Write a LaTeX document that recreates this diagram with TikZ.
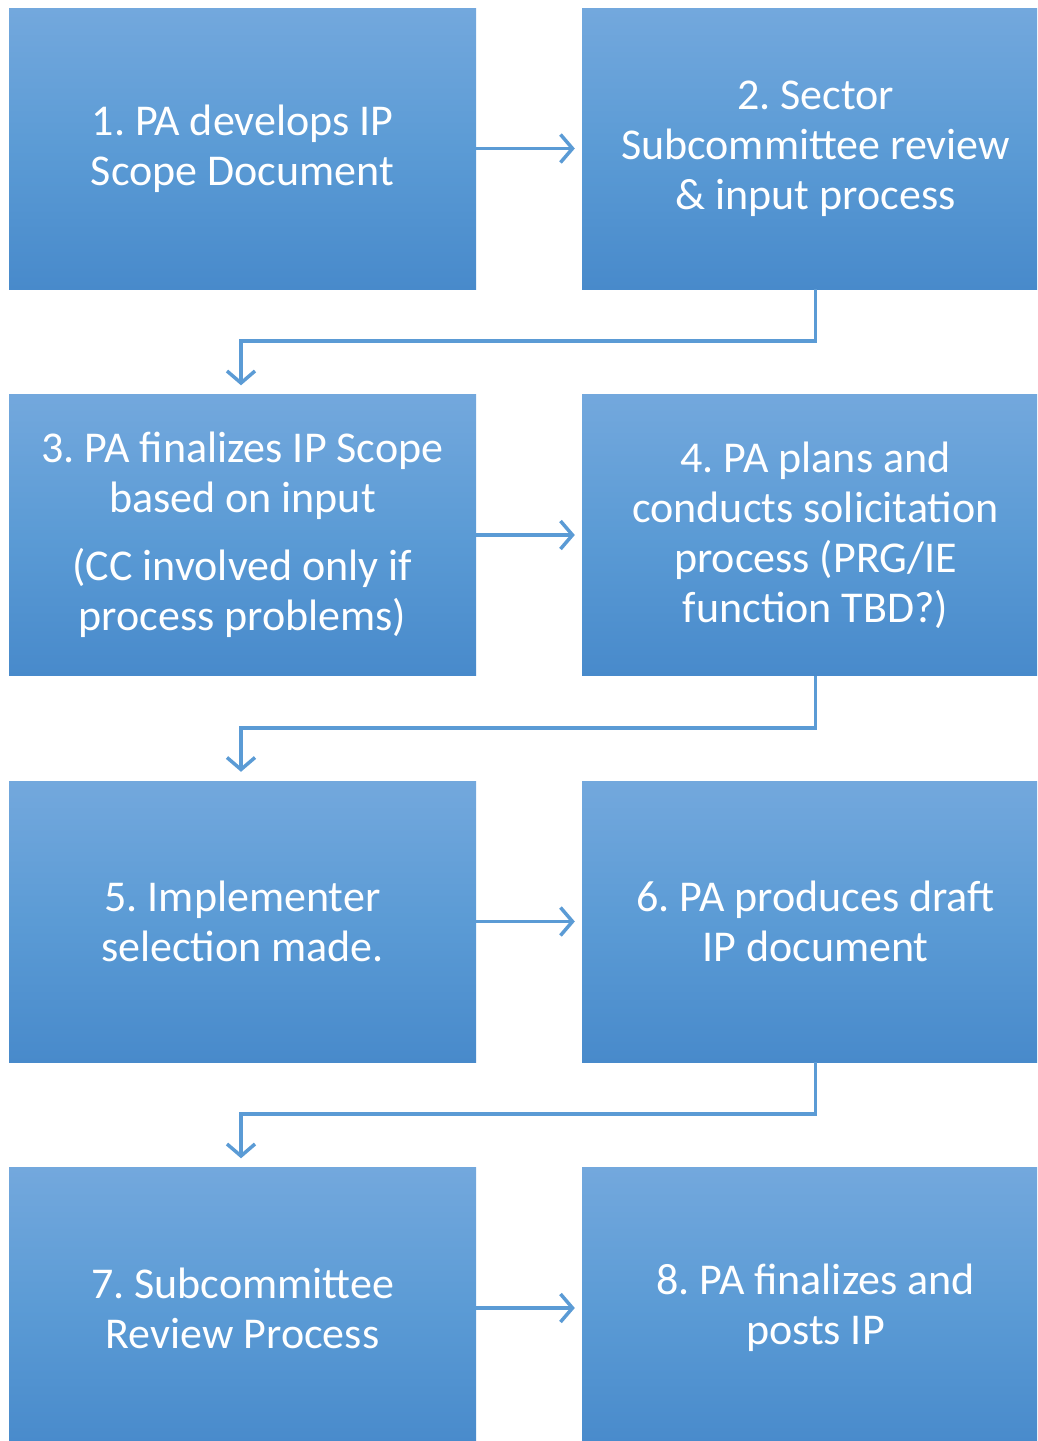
\documentclass[tikz,border=0pt]{standalone}
\usepackage{fontspec}
\setmainfont{Carlito}
\usetikzlibrary{arrows.meta}
\definecolor{bxtop}{RGB}{115,168,221}
\definecolor{bxmid}{RGB}{91,155,213}
\definecolor{bxbot}{RGB}{72,138,203}
\definecolor{arr}{RGB}{91,155,213}
\tikzset{
  stepbox/.style={rectangle, minimum width=467pt, minimum height=281pt, inner sep=0pt,
    top color=bxtop, bottom color=bxbot, middle color=bxmid, draw=none,
    text=white, align=center, font=\fontsize{44}{50}\selectfont\frenchspacing},
  flowarrow/.style={draw=arr, line width=3.5pt, -{Straight Barb[length=12pt,width=28pt,line width=3.5pt]}},
}
\begin{document}
\begin{tikzpicture}[x=1pt,y=-1pt]
\useasboundingbox (0,0) rectangle (1037,1441);
\clip (0,0) rectangle (1037,1441);
\node[stepbox] (b1) at (242.5,148.5) {1. PA develops IP\\Scope Document};
\node[stepbox] (b2) at (815.5,148.5) {2. Sector\\Subcommittee review\\\& input process};
\node[stepbox] (b3) at (242.5,535) {3. PA finalizes IP Scope\\based on input\\[18pt](CC involved only if\\process problems)};
\node[stepbox] (b4) at (815.5,535) {4. PA plans and\\conducts solicitation\\process (PRG/IE\\function TBD?)};
\node[stepbox] (b5) at (242.5,921.5) {5. Implementer\\selection made.};
\node[stepbox] (b6) at (815.5,921.5) {6. PA produces draft\\IP document};
\node[stepbox] (b7) at (242.5,1308) {7. Subcommittee\\Review Process};
\node[stepbox] (b8) at (815.5,1308) {8. PA finalizes and\\posts IP};
\coordinate (e1) at (241,341);
\coordinate (e2) at (241,728);
\coordinate (e3) at (241,1114);
\draw[flowarrow, shorten >=7pt] (b1.east) -- (b2.west);
\draw[flowarrow, shorten >=7pt] (b3.east) -- (b4.west);
\draw[flowarrow, shorten >=7pt] (b5.east) -- (b6.west);
\draw[flowarrow, shorten >=7pt] (b7.east) -- (b8.west);
\draw[flowarrow, shorten >=9pt] (b2.south) |- (e1) -- (e1 |- b3.north);
\draw[flowarrow, shorten >=9pt] (b4.south) |- (e2) -- (e2 |- b5.north);
\draw[flowarrow, shorten >=9pt] (b6.south) |- (e3) -- (e3 |- b7.north);
\end{tikzpicture}
\end{document}
